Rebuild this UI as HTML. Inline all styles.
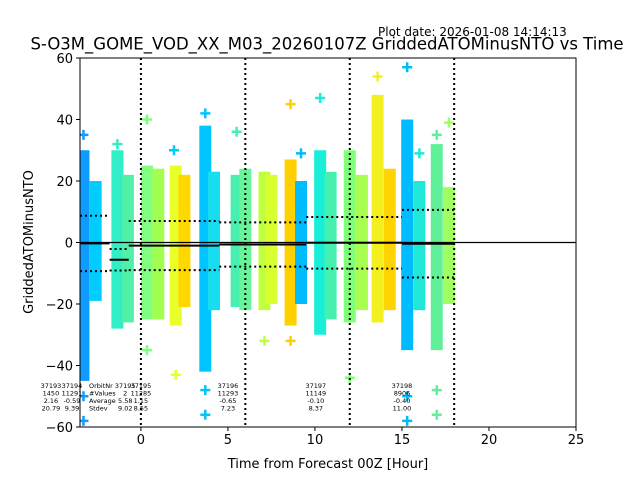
<!DOCTYPE html>
<html><head><meta charset="utf-8"><style>
body{margin:0;background:#fff;}
svg{display:block;font-family:"DejaVu Sans","Liberation Sans",sans-serif;}
</style></head><body>
<svg id="c" width="640" height="480">
<text x="378" y="36" font-size="12">Plot date: 2026-01-08 14:14:13</text>
<text x="327" y="49.5" font-size="16.5" text-anchor="middle">S-O3M_GOME_VOD_XX_M03_20260107Z GriddedATOMinusNTO vs Time</text>
<g id="plot"></g>
<text x="328" y="468" font-size="13" text-anchor="middle">Time from Forecast 00Z [Hour]</text>
<text transform="translate(33,242) rotate(-90)" font-size="13" text-anchor="middle">GriddedATOMinusNTO</text>
</svg>
<script>
const stripHour=[-3.3,-2.6,-1.35,-0.75,0.35,1.0,2.0,2.5,3.7,4.2,5.5,6.0,7.1,7.5,8.6,9.2,10.3,10.9,12.0,12.7,13.6,14.3,15.3,16.0,17.0,17.7];
const stripLo=[-45,-19,-28,-26,-25,-25,-27,-21,-42,-22,-21,-22,-22,-20,-27,-20,-30,-25,-26,-22,-26,-22,-35,-22,-35,-20];
const stripHi=[30,20,30,22,25,24,25,22,38,23,22,24,23,22,27,20,30,23,30,22,48,24,40,20,32,18];
const stripColor=["#109cff","#00ccff","#30eec8","#50f0a8","#80ff80","#a0ff50","#e8ff28","#ffd800","#00c4ff","#18dcf0","#48f0b0","#68f498","#c0ff40","#d8ff30","#ffd000","#00bcff","#18eed8","#48f0b0","#80ff78","#a8ff50","#f4f020","#ffd400","#00bcff","#20e8d8","#60f098","#a0ff60"];
const outHour=[-3.3,-3.3,-3.3,-1.35,0.35,0.35,2.0,1.9,3.7,3.7,3.7,5.5,7.1,8.6,8.6,9.2,10.3,12.0,13.6,15.3,15.3,15.3,16.0,17.0,17.0,17.0,17.7];
const outVal=[35,-58,-50,32,40,-35,-43,30,42,-56,-48,36,-32,45,-32,29,47,-44,54,57,-50,-58,29,35,-48,-56,39];
const meanStart=[-3.5,-1.8,-0.7,4.5,9.5,15.0];
const meanEnd=[-1.8,-0.7,4.5,9.5,15.0,18.0];
const meanVal=[-0.3,-5.6,-1.0,-0.65,-0.1,-0.4];
const sdVal=[9,3.5,8.0,7.2,8.4,11.0];
const vLines=[0,6,12,18];
const xTicks=[0,5,10,15,20,25];
const yTicks=[-60,-40,-20,0,20,40,60];
const orbitCols=[["37193","1450","2.16","20.79"],["37194","11291","-0.59","9.39"],["37195","2","5.58","9.02"],["37195","11285","1.15","8.55"],["37196","11293","-0.65","7.23"],["37197","11149","-0.10","8.37"],["37198","8906","-0.40","11.00"]];
const orbitX=[-5.17,-3.96,-0.9,0,5.0,10.05,15.0];
const L=80,R=576,T=58,B=427;
const X=h=>L+(h+3.5)*(R-L)/28.5;
const Y=v=>T+(60-v)*(B-T)/120;
const NS="http://www.w3.org/2000/svg";
const g=document.getElementById('plot');
function mk(t,a,p){const e=document.createElementNS(NS,t);for(const k in a)e.setAttribute(k,a[k]);(p||g).appendChild(e);return e;}
const clip=mk('clipPath',{id:'cp'});mk('rect',{x:L,y:T,width:R-L,height:B-T},clip);
const pg=mk('g',{'clip-path':'url(#cp)'});
stripHour.forEach((h,i)=>{
 const r=mk('rect',{x:X(h)-6,y:Y(stripHi[i]),width:12,height:Y(stripLo[i])-Y(stripHi[i]),fill:stripColor[i]},pg);
 
 
});
outHour.forEach((h,i)=>{
 const k=stripHour.indexOf(h);const col=k>=0?stripColor[k]:"#00ccff";
 const p=mk('path',{d:`M${X(h)-5},${Y(outVal[i])}h10M${X(h)},${Y(outVal[i])-5}v10`,stroke:col,'stroke-width':2.5},pg);
 
 
});
mk('line',{x1:L,x2:R,y1:Y(0),y2:Y(0),stroke:'#000','stroke-width':1.2},pg);
meanStart.forEach((s,i)=>{
 const m=mk('line',{x1:X(s),x2:X(meanEnd[i]),y1:Y(meanVal[i]),y2:Y(meanVal[i]),stroke:'#000','stroke-width':2},pg);
 
 
 [1,-1].forEach(sg=>{
  const d=mk('line',{x1:X(s),x2:X(meanEnd[i]),y1:Y(meanVal[i]+sg*sdVal[i]),y2:Y(meanVal[i]+sg*sdVal[i]),stroke:'#000','stroke-width':2,'stroke-dasharray':'2,3'},pg);
  
  
 });
});
vLines.forEach(h=>{
 const v=mk('line',{x1:X(h),x2:X(h),y1:T,y2:B,stroke:'#000','stroke-width':2,'stroke-dasharray':'2,3'},pg);
 
 
});
const lbl=["OrbitNr","#Values","Average","Stdev"];
lbl.forEach((t,j)=>{const e=mk('text',{x:89,y:388+j*7.5,'font-size':6.5});e.textContent=t;
 
 });
orbitCols.forEach((c,i)=>c.forEach((t,j)=>{
 const e=mk('text',{x:X(orbitX[i]),y:388+j*7.5,'font-size':6.5,'text-anchor':'middle'});e.textContent=t;
 
 
}));
mk('rect',{x:L,y:T,width:R-L,height:B-T,fill:'none',stroke:'#000','stroke-width':1});
xTicks.forEach(t=>{mk('line',{x1:X(t),x2:X(t),y1:B,y2:B+4,stroke:'#000'});
 const e=mk('text',{x:X(t),y:B+17,'font-size':13,'text-anchor':'middle'});e.textContent=t;
 
 });
yTicks.forEach(t=>{mk('line',{x1:L-4,x2:L,y1:Y(t),y2:Y(t),stroke:'#000'});
 const e=mk('text',{x:L-7,y:Y(t)+5,'font-size':13,'text-anchor':'end'});e.textContent=t<0?'\u2212'+(-t):t;
 
 });
</script>
</body></html>
